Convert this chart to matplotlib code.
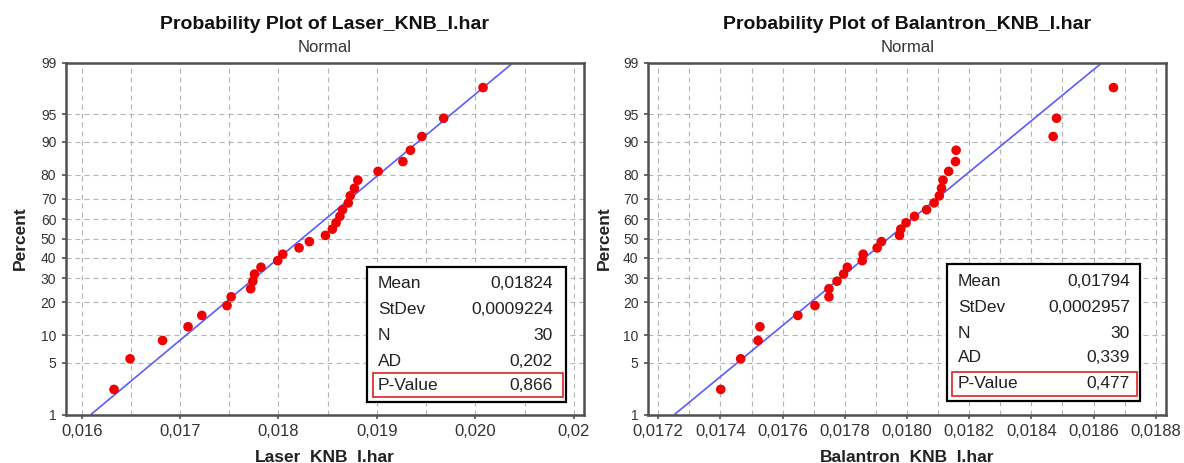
import matplotlib
matplotlib.use('Agg')
import matplotlib.pyplot as plt
from matplotlib.patches import Rectangle
from matplotlib.ticker import FixedLocator
from statistics import NormalDist

plt.rcParams['font.family'] = ['Liberation Sans', 'DejaVu Sans']

# ---------------- data ----------------
laser_values = [0.016329, 0.016492, 0.016822, 0.017081, 0.017221, 0.017477, 0.017519,
                0.017717, 0.017740, 0.017756, 0.017822, 0.017992, 0.018043, 0.018209,
                0.018314, 0.018477, 0.018547, 0.018585, 0.018624, 0.018651, 0.018709,
                0.018729, 0.018771, 0.018806, 0.019012, 0.019264, 0.019341, 0.019457,
                0.019678, 0.020078]
balantron_values = [0.017401, 0.017465, 0.017521, 0.017527, 0.017649, 0.017704, 0.017749,
                    0.017749, 0.017775, 0.017796, 0.017808, 0.017856, 0.017859, 0.017904,
                    0.017918, 0.017976, 0.017980, 0.017997, 0.018024, 0.018063, 0.018087,
                    0.018104, 0.018111, 0.018116, 0.018134, 0.018156, 0.018158, 0.018470,
                    0.018481, 0.018664]

laser_mean, laser_sd = 0.01824, 0.0009224
balantron_mean, balantron_sd = 0.01794, 0.0002957

stat_names = ['Mean', 'StDev', 'N', 'AD', 'P-Value']
laser_stats = ['0,01824', '0,0009224', '30', '0,202', '0,866']
balantron_stats = ['0,01794', '0,0002957', '30', '0,339', '0,477']

percent_ticks = [1, 5, 10, 20, 30, 40, 50, 60, 70, 80, 90, 95, 99]

laser_xticks = [0.016, 0.017, 0.018, 0.019, 0.020, 0.021]
laser_xlabels = ['0,016', '0,017', '0,018', '0,019', '0,020', '0,02']
laser_xminor = [0.0165, 0.0175, 0.0185, 0.0195, 0.0205]

bal_xticks = [0.0172, 0.0174, 0.0176, 0.0178, 0.0180, 0.0182, 0.0184, 0.0186, 0.0188]
bal_xlabels = ['0,0172', '0,0174', '0,0176', '0,0178', '0,0180', '0,0182', '0,0184', '0,0186', '0,0188']
bal_xminor = [0.0173, 0.0175, 0.0177, 0.0179, 0.0181, 0.0183, 0.0185, 0.0187]

# ---------------- helpers ----------------
W, H = 1184, 463
nd = NormalDist()
def z(p):
    return nd.inv_cdf(p / 100.0)
def fx(x):
    return x / W
def fy(y):
    return 1 - y / H

fig = plt.figure(figsize=(W / 100, H / 100), dpi=100)

TICK_COLOR = '#333333'
SPINE_COLOR = '#505050'
GRID_COLOR = '#b4b4b4'


def panel(px_left, px_right, values, mean, sd, xlim, xticks, xlabels, xminor,
          title, xlabel, stats, box, ylab_x):
    top, bottom = 62.5, 414.5
    ax = fig.add_axes([fx(px_left), fy(bottom), (px_right - px_left) / W, (bottom - top) / H])
    n = len(values)
    sv = sorted(values)
    pcts = [100.0 * (i + 1 - 0.3) / (n + 0.4) for i in range(n)]
    ax.set_xlim(*xlim)
    ax.set_ylim(z(1), z(99))
    ax.set_axisbelow(True)

    # fitted line
    zl, zh = z(1), z(99)
    ax.plot([mean + sd * zl, mean + sd * zh], [zl, zh], color='#5a5aff', lw=1.2, zorder=2,
            solid_capstyle='butt')
    ax.scatter(sv, [z(p) for p in pcts], s=48, color='#f00000', edgecolors='none', zorder=3,
               clip_on=False)

    ax.set_xticks(xticks)
    ax.set_xticklabels(xlabels)
    ax.xaxis.set_minor_locator(FixedLocator(xminor))
    ax.set_yticks([z(p) for p in percent_ticks])
    ax.set_yticklabels([str(p) for p in percent_ticks])
    ax.tick_params(axis='x', which='major', length=3, width=1.2, color=SPINE_COLOR,
                   labelsize=12, labelcolor=TICK_COLOR, pad=4)
    ax.tick_params(axis='x', which='minor', length=0)
    ax.tick_params(axis='y', which='major', length=3, width=1.2, color=SPINE_COLOR,
                   labelsize=10, labelcolor=TICK_COLOR, pad=4)
    ax.grid(True, axis='x', which='both', color=GRID_COLOR, lw=0.8, linestyle=(0, (4.5, 3.6)))
    ax.grid(True, axis='y', which='major', color=GRID_COLOR, lw=0.8, linestyle=(0, (4.5, 3.6)))
    for s in ax.spines.values():
        s.set_color(SPINE_COLOR)
        s.set_linewidth(1.8)

    cx = (px_left + px_right) / 2
    fig.text(fx(cx), fy(29), title, ha='center', va='baseline', fontsize=14,
             fontweight='bold', color='#111111')
    fig.text(fx(cx), fy(52), 'Normal', ha='center', va='baseline', fontsize=12,
             color='#333333')
    fig.text(fx(cx), fy(461), xlabel, ha='center', va='baseline', fontsize=12.5,
             fontweight='bold', color='#222222')
    fig.text(fx(ylab_x), fy(238.5), 'Percent', ha='center', va='center', rotation=90,
             fontsize=12.5, fontweight='bold', color='#222222')

    # stats box
    bx0, bx1, by0, by1, lab_x, val_x, rows, rb = box
    fig.add_artist(Rectangle((fx(bx0), fy(by1)), (bx1 - bx0) / W, (by1 - by0) / H,
                             transform=fig.transFigure, facecolor='white',
                             edgecolor='black', lw=1.6, zorder=5))
    for name, val, ry in zip(stat_names, stats, rows):
        fig.text(fx(lab_x), fy(ry), name, ha='left', va='center', fontsize=12.5,
                 color='#222222', zorder=6)
        fig.text(fx(val_x), fy(ry), val, ha='right', va='center', fontsize=12.5,
                 color='#222222', zorder=6)
    rx0, rx1, ry0, ry1 = rb
    fig.add_artist(Rectangle((fx(rx0), fy(ry1)), (rx1 - rx0) / W, (ry1 - ry0) / H,
                             transform=fig.transFigure, facecolor='none',
                             edgecolor='#e02020', lw=1.2, zorder=7))
    return ax


panel(66, 583.5, laser_values, laser_mean, laser_sd, (0.015841, 0.021099),
      laser_xticks, laser_xlabels, laser_xminor,
      'Probability Plot of Laser_KNB_I.har', 'Laser_KNB_I.har', laser_stats,
      (367, 566, 266.5, 401.5, 378, 553, [283, 309, 335, 361, 386],
       (373, 563, 372.5, 396.5)), 20)

panel(648.3, 1166, balantron_values, balantron_mean, balantron_sd, (0.017168, 0.018833),
      bal_xticks, bal_xlabels, bal_xminor,
      'Probability Plot of Balantron_KNB_I.har', 'Balantron_KNB_I.har', balantron_stats,
      (947, 1140, 264, 401, 958, 1130, [282, 307, 333, 358, 384],
       (952, 1136.5, 372, 396)), 604)

fig.savefig('out.png', dpi=100)
